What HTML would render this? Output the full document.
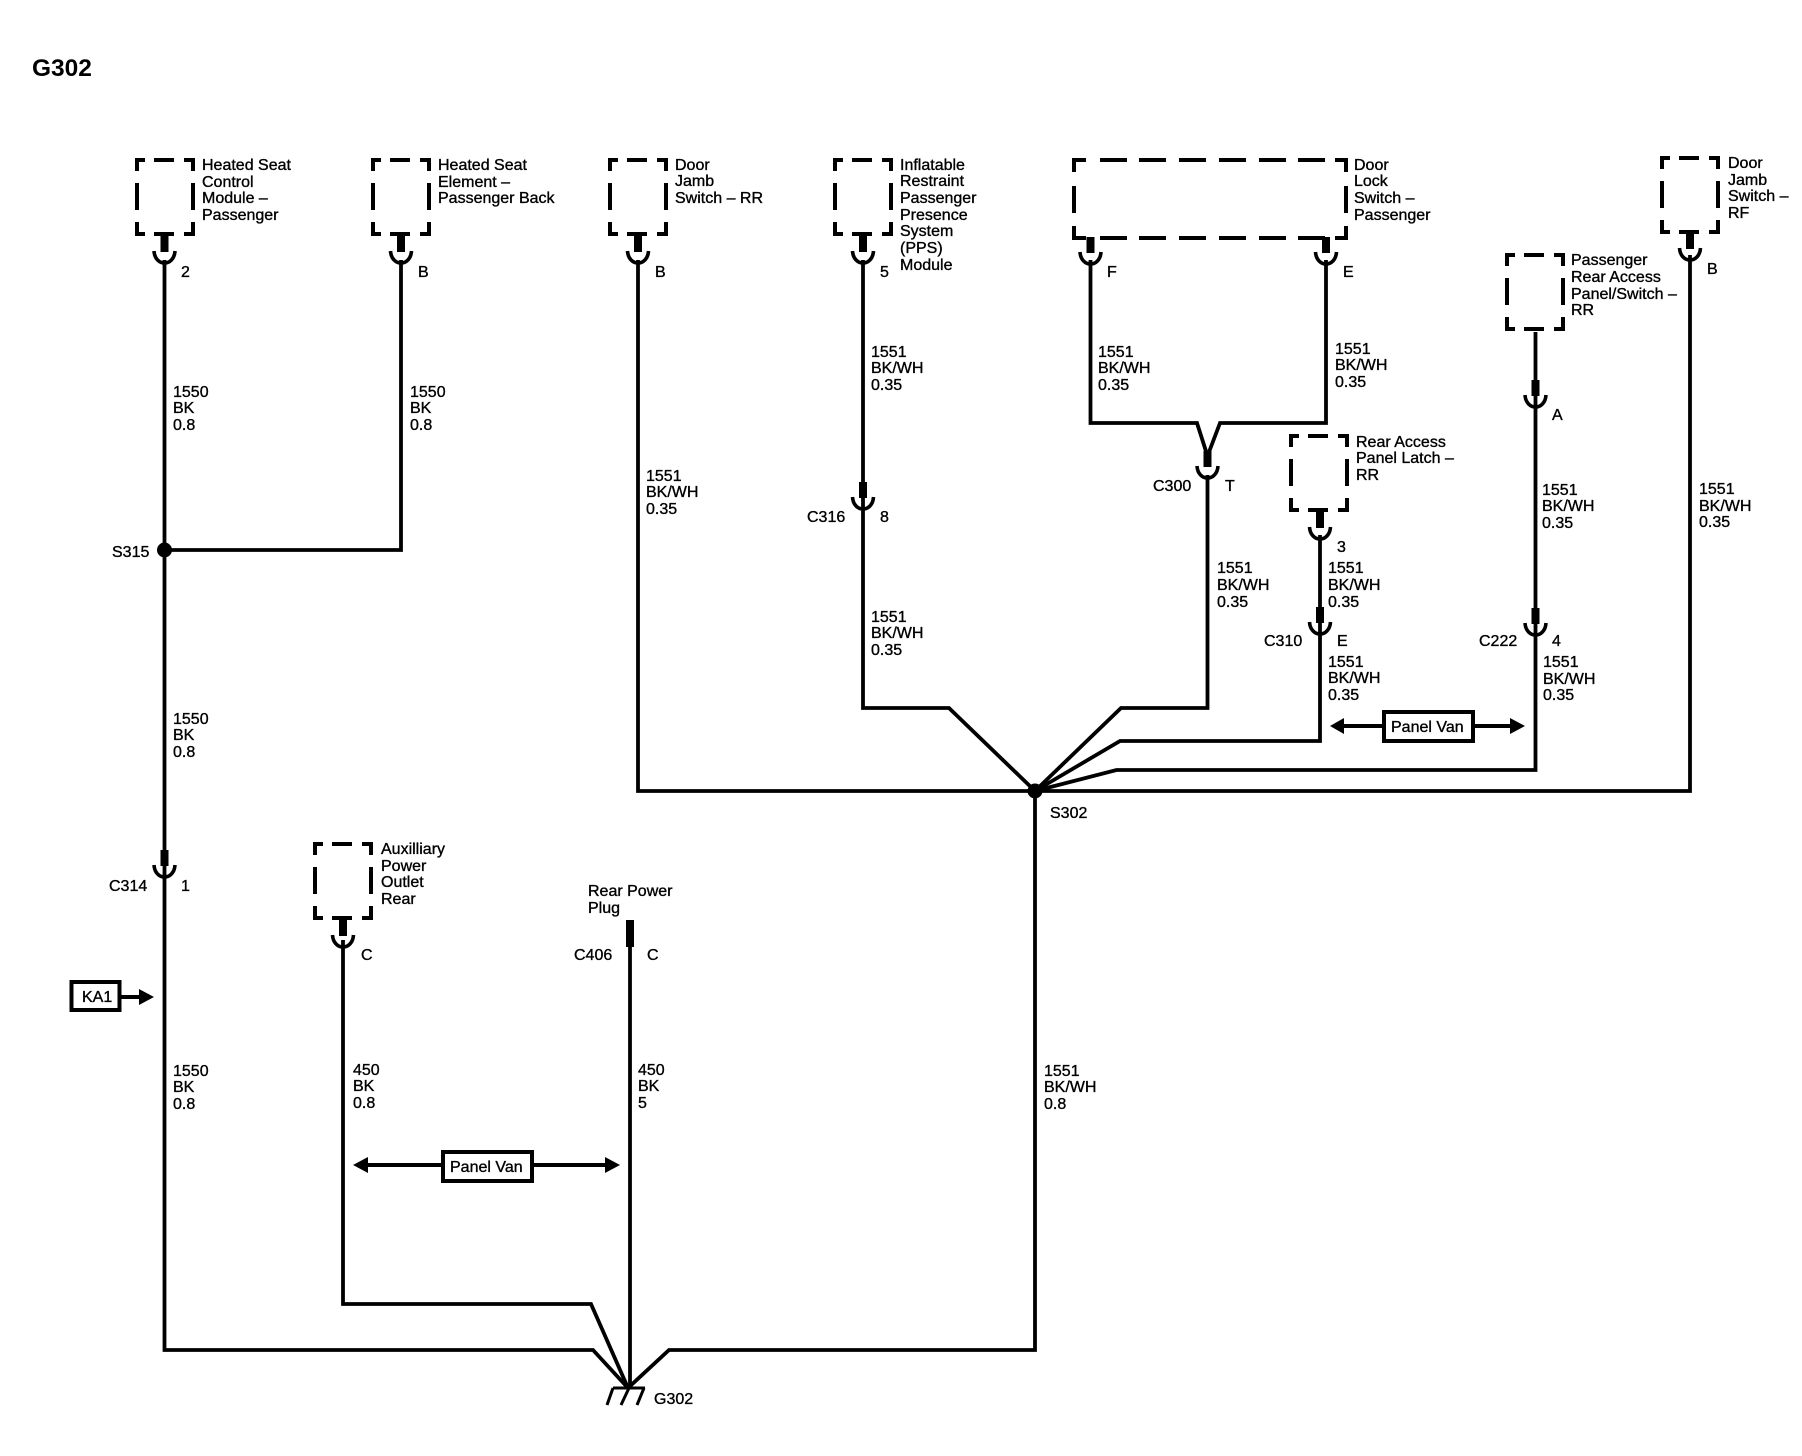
<!DOCTYPE html>
<html><head><meta charset="utf-8"><style>
html,body{margin:0;padding:0;background:#fff;width:1802px;height:1456px;overflow:hidden}
svg{display:block}
text{font-family:"Liberation Sans",sans-serif;font-size:16px;fill:#000;stroke:#000;stroke-width:.35}
.w{fill:none;stroke:#000;stroke-width:3.8;stroke-linejoin:miter}
</style></head><body>
<svg width="1802" height="1456" viewBox="0 0 1802 1456" xmlns="http://www.w3.org/2000/svg">
<defs>
<path id="box" fill="none" stroke="#000" stroke-width="4" d="M2 13V2H10M19 2H39M49 2H58V13M2 25V52M58 25V52M2 64V76H10M19 76H39M49 76H58V64"/>
<g id="cup"><rect x="-4" y="0" width="8" height="16" fill="#000"/><path fill="none" stroke="#000" stroke-width="3.6" d="M-10.5 15C-10 23-5 27 0 27C5 27 10 23 10.5 15"/></g>
</defs>

<text x="32" y="76" style="font-size:24.5px;font-weight:bold;stroke-width:0">G302</text>

<!-- boxes -->
<use href="#box" x="135" y="158"/>
<use href="#box" x="371" y="158"/>
<use href="#box" x="608" y="158"/>
<use href="#box" x="833" y="158"/>
<use href="#box" x="1289" y="434"/>
<use href="#box" x="1505" y="253"/>
<use href="#box" x="1660" y="156"/>
<use href="#box" x="313" y="842"/>
<path fill="none" stroke="#000" stroke-width="4" d="M1074 172V160H1086M1100 160H1127M1139 160H1166M1179 160H1206M1219 160H1246M1259 160H1286M1298 160H1325M1335 160H1346V172M1074 186V213M1346 186V213M1074 226V238H1086M1100 238H1127M1139 238H1166M1179 238H1206M1219 238H1246M1259 238H1286M1298 238H1325M1335 238H1346V226"/>

<!-- connectors -->
<use href="#cup" x="164.5" y="236"/>
<use href="#cup" x="401" y="236"/>
<use href="#cup" x="638" y="236"/>
<use href="#cup" x="863" y="236"/>
<use href="#cup" x="1090.5" y="237"/>
<use href="#cup" x="1326" y="237"/>
<use href="#cup" x="863" y="482"/>
<use href="#cup" x="1207.5" y="451"/>
<use href="#cup" x="1320" y="512"/>
<use href="#cup" x="1320" y="607"/>
<use href="#cup" x="1535.5" y="380"/>
<use href="#cup" x="1535.5" y="608"/>
<use href="#cup" x="1690" y="233"/>
<use href="#cup" x="164.5" y="850"/>
<use href="#cup" x="343" y="920"/>
<rect x="626" y="920" width="8" height="27" fill="#000"/>

<!-- wires -->
<path class="w" d="M164.5 260V1350H593L628 1388"/>
<path class="w" d="M401 260V550H164.5"/>
<path class="w" d="M638 260V791H1690V255"/>
<path class="w" d="M863 260V708H949L1035 791"/>
<path class="w" d="M1090.5 260V423H1197L1207.5 456"/>
<path class="w" d="M1326 260V423H1220L1207.5 456"/>
<path class="w" d="M1207.5 475V708H1121L1035 791"/>
<path class="w" d="M1320 535V741H1120L1035 791"/>
<path class="w" d="M1535.5 332V770H1116.5L1035 791"/>
<path class="w" d="M1035 791V1350H669L628 1388"/>
<path class="w" d="M343 940V1304H591L628 1388"/>
<path class="w" d="M630 947V1388"/>
<circle cx="164.5" cy="550" r="7.5" fill="#000"/>
<circle cx="1035" cy="791" r="7.5" fill="#000"/>

<!-- ground -->
<path fill="none" stroke="#000" stroke-width="3" d="M613 1388H645M613 1388L607 1405M629 1388L621 1405M644 1388L637 1405"/>

<!-- KA1 -->
<rect x="71.5" y="982" width="48" height="28" fill="#fff" stroke="#000" stroke-width="4"/>
<text x="82" y="1002">KA1</text>
<path d="M121 997H140" stroke="#000" stroke-width="4"/>
<path d="M139 989L154 997L139 1005Z" fill="#000"/>

<!-- panel van right -->
<path d="M1344 726H1382M1474 726H1510" stroke="#000" stroke-width="4"/>
<path d="M1330 726L1344 718V734Z M1525 726L1510 718V734Z" fill="#000"/>
<rect x="1384" y="712" width="89" height="29" fill="#fff" stroke="#000" stroke-width="4"/>
<text x="1391" y="732">Panel Van</text>

<!-- panel van left -->
<path d="M367 1165H442M533 1165H606" stroke="#000" stroke-width="4"/>
<path d="M353 1165L368 1157V1173Z M620 1165L605 1157V1173Z" fill="#000"/>
<rect x="443" y="1152" width="89" height="29" fill="#fff" stroke="#000" stroke-width="4"/>
<text x="450" y="1172">Panel Van</text>

<!-- component labels -->
<text x="202" y="170">Heated Seat</text>
<text x="202" y="187">Control</text>
<text x="202" y="203">Module –</text>
<text x="202" y="220">Passenger</text>
<text x="438" y="170">Heated Seat</text>
<text x="438" y="187">Element –</text>
<text x="438" y="203">Passenger Back</text>
<text x="675" y="170">Door</text>
<text x="675" y="186">Jamb</text>
<text x="675" y="203">Switch – RR</text>
<text x="900" y="170">Inflatable</text>
<text x="900" y="186">Restraint</text>
<text x="900" y="203">Passenger</text>
<text x="900" y="220">Presence</text>
<text x="900" y="236">System</text>
<text x="900" y="253">(PPS)</text>
<text x="900" y="270">Module</text>
<text x="1354" y="170">Door</text>
<text x="1354" y="186">Lock</text>
<text x="1354" y="203">Switch –</text>
<text x="1354" y="220">Passenger</text>
<text x="1356" y="447">Rear Access</text>
<text x="1356" y="463">Panel Latch –</text>
<text x="1356" y="480">RR</text>
<text x="1571" y="265">Passenger</text>
<text x="1571" y="282">Rear Access</text>
<text x="1571" y="299">Panel/Switch –</text>
<text x="1571" y="315">RR</text>
<text x="1728" y="168">Door</text>
<text x="1728" y="185">Jamb</text>
<text x="1728" y="201">Switch –</text>
<text x="1728" y="218">RF</text>
<text x="381" y="854">Auxilliary</text>
<text x="381" y="871">Power</text>
<text x="381" y="887">Outlet</text>
<text x="381" y="904">Rear</text>
<text x="588" y="896">Rear Power</text>
<text x="588" y="913">Plug</text>

<!-- pin / connector labels -->
<text x="181" y="277">2</text>
<text x="418" y="277">B</text>
<text x="655" y="277">B</text>
<text x="880" y="277">5</text>
<text x="1107" y="277">F</text>
<text x="1343" y="277">E</text>
<text x="1707" y="274">B</text>
<text x="1552" y="420">A</text>
<text x="807" y="522">C316</text>
<text x="880" y="522">8</text>
<text x="1153" y="491">C300</text>
<text x="1225" y="491">T</text>
<text x="1337" y="552">3</text>
<text x="1264" y="646">C310</text>
<text x="1337" y="646">E</text>
<text x="1479" y="646">C222</text>
<text x="1552" y="646">4</text>
<text x="109" y="891">C314</text>
<text x="181" y="891">1</text>
<text x="361" y="960">C</text>
<text x="574" y="960">C406</text>
<text x="647" y="960">C</text>
<text x="112" y="557">S315</text>
<text x="1050" y="818">S302</text>
<text x="654" y="1404">G302</text>

<!-- wire labels -->
<text x="173" y="397">1550</text><text x="173" y="413">BK</text><text x="173" y="430">0.8</text>
<text x="410" y="397">1550</text><text x="410" y="413">BK</text><text x="410" y="430">0.8</text>
<text x="173" y="724">1550</text><text x="173" y="740">BK</text><text x="173" y="757">0.8</text>
<text x="173" y="1076">1550</text><text x="173" y="1092">BK</text><text x="173" y="1109">0.8</text>
<text x="353" y="1075">450</text><text x="353" y="1091">BK</text><text x="353" y="1108">0.8</text>
<text x="638" y="1075">450</text><text x="638" y="1091">BK</text><text x="638" y="1108">5</text>
<text x="1044" y="1076">1551</text><text x="1044" y="1092">BK/WH</text><text x="1044" y="1109">0.8</text>
<text x="646" y="481">1551</text><text x="646" y="497">BK/WH</text><text x="646" y="514">0.35</text>
<text x="871" y="357">1551</text><text x="871" y="373">BK/WH</text><text x="871" y="390">0.35</text>
<text x="871" y="622">1551</text><text x="871" y="638">BK/WH</text><text x="871" y="655">0.35</text>
<text x="1098" y="357">1551</text><text x="1098" y="373">BK/WH</text><text x="1098" y="390">0.35</text>
<text x="1335" y="354">1551</text><text x="1335" y="370">BK/WH</text><text x="1335" y="387">0.35</text>
<text x="1217" y="573">1551</text><text x="1217" y="590">BK/WH</text><text x="1217" y="607">0.35</text>
<text x="1328" y="573">1551</text><text x="1328" y="590">BK/WH</text><text x="1328" y="607">0.35</text>
<text x="1328" y="667">1551</text><text x="1328" y="683">BK/WH</text><text x="1328" y="700">0.35</text>
<text x="1542" y="495">1551</text><text x="1542" y="511">BK/WH</text><text x="1542" y="528">0.35</text>
<text x="1543" y="667">1551</text><text x="1543" y="684">BK/WH</text><text x="1543" y="700">0.35</text>
<text x="1699" y="494">1551</text><text x="1699" y="511">BK/WH</text><text x="1699" y="527">0.35</text>
</svg>
</body></html>
